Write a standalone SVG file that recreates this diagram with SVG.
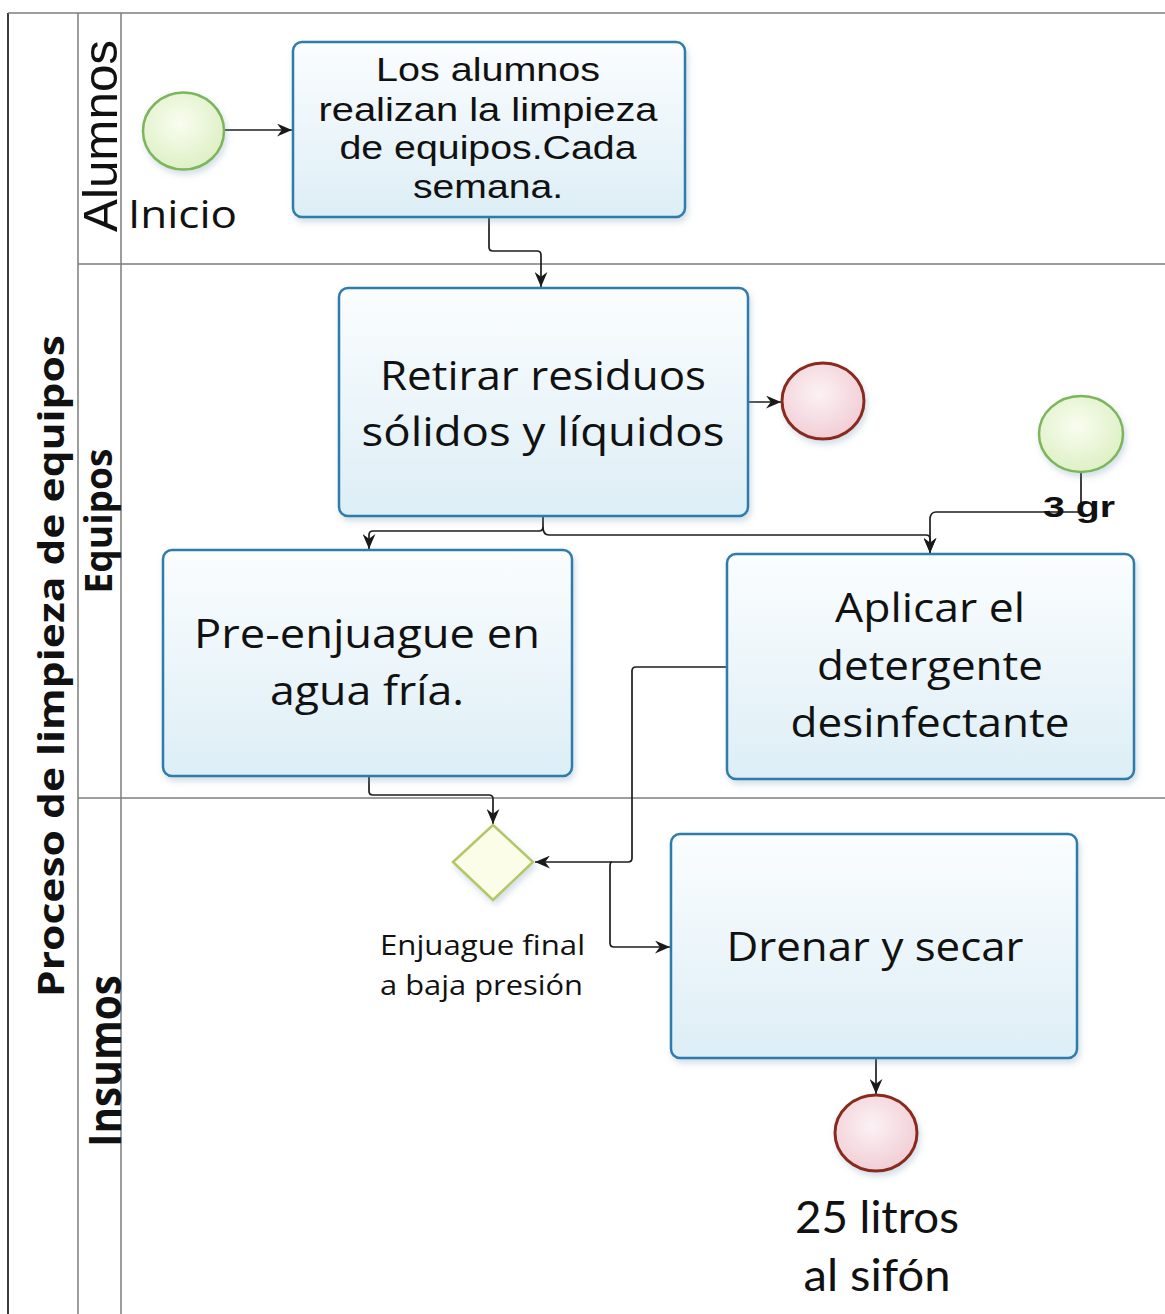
<svg xmlns="http://www.w3.org/2000/svg" width="1165" height="1314" viewBox="0 0 1165 1314">
<defs>
  <linearGradient id="taskFill" x1="0" y1="0" x2="0" y2="1">
    <stop offset="0" stop-color="#fbfdfe"/>
    <stop offset="1" stop-color="#ddeef6"/>
  </linearGradient>
  <radialGradient id="startFill" cx="0.45" cy="0.4" r="0.65">
    <stop offset="0" stop-color="#f9fdf0"/>
    <stop offset="1" stop-color="#dcefc2"/>
  </radialGradient>
  <radialGradient id="endFill" cx="0.45" cy="0.4" r="0.65">
    <stop offset="0" stop-color="#fbf2f5"/>
    <stop offset="1" stop-color="#f1cbd3"/>
  </radialGradient>
  <filter id="shadow" x="-10%" y="-10%" width="130%" height="140%">
    <feDropShadow dx="2" dy="4" stdDeviation="3" flood-color="#6d93ad" flood-opacity="0.3"/>
  </filter>
  <marker id="arrow" viewBox="0 0 14 12" refX="14" refY="6" markerWidth="15" markerHeight="13" markerUnits="userSpaceOnUse" orient="auto">
    <path d="M0,0 L14,6 L0,12 L4.5,6 Z" fill="#1a1a1a"/>
  </marker>
  <style>
    .frame { stroke:#3a3a3a; stroke-width:2; fill:none; }
    .lane { stroke:#7c7c7c; stroke-width:1.5; fill:none; }
    .task { fill:url(#taskFill); stroke:#2f7caa; stroke-width:2.5; filter:url(#shadow); }
    .start { fill:url(#startFill); stroke:#7cb65a; stroke-width:2.5; filter:url(#shadow); }
    .end { fill:url(#endFill); stroke:#8a2b1c; stroke-width:3; filter:url(#shadow); }
    .gw { fill:#fcfde9; stroke:#b3c865; stroke-width:2.5; filter:url(#shadow); }
    .conn { fill:none; stroke:#1e1e1e; stroke-width:1.7; }
    .arr { marker-end:url(#arrow); }
    .arial { font-family:"Liberation Sans", Arial, sans-serif; fill:#111; }
    .segoe { font-family:"Open Sans", "Noto Sans", sans-serif; fill:#111; }
    .calibri { font-family:Lato, "Open Sans", sans-serif; fill:#111; }
    .mid { text-anchor:middle; }
  </style>
</defs>

<g id="pool">
  <line class="frame" x1="8" y1="13" x2="8" y2="1314"/>
  <line class="lane" x1="8" y1="13" x2="1165" y2="13"/>
  <line class="lane" x1="78" y1="13" x2="78" y2="1314"/>
  <line class="lane" x1="121" y1="13" x2="121" y2="1314"/>
  <line class="lane" x1="78" y1="264" x2="1165" y2="264"/>
  <line class="lane" x1="78" y1="798" x2="1165" y2="798"/>
  <text class="segoe mid" font-size="36" font-weight="bold" transform="translate(64,666) rotate(-90)" textLength="662" lengthAdjust="spacingAndGlyphs">Proceso  de limpieza de equipos</text>
</g>

<g id="lane-alumnos">
  <text class="arial mid" font-size="48" transform="translate(117,136) rotate(-90)" textLength="192" lengthAdjust="spacingAndGlyphs">Alumnos</text>
</g>
<g id="lane-equipos">
  <text class="segoe mid" font-size="38" font-weight="bold" transform="translate(112,521) rotate(-90)" textLength="145" lengthAdjust="spacingAndGlyphs">Equipos</text>
</g>
<g id="lane-insumos">
  <text class="segoe mid" font-size="44" font-weight="bold" transform="translate(121,1061) rotate(-90)" textLength="172" lengthAdjust="spacingAndGlyphs">Insumos</text>
</g>

<g id="connectors">
  <path class="conn arr" d="M224,130 H292"/>
  <path class="conn arr" d="M489,217 V247 Q489,251 493,251 H537 Q541,251 541,255 V287"/>
  <path class="conn arr" d="M748,402 H781"/>
  <path class="conn arr" d="M543,517 V527 Q543,531 539,531 H373 Q369,531 369,535 V549"/>
  <path class="conn arr" d="M543,527 Q543,535 549,535 H926 Q930,535 930,539 V553"/>
  <path class="conn arr" d="M1081,472 V512 H936 Q931,512 930,518 V553"/>
  <path class="conn arr" d="M369,777 V791 Q369,795 373,795 H489 Q493,795 493,799 V824"/>
  <path class="conn arr" d="M727,667 H636 Q632,667 632,671 V858 Q632,862 628,862 H535"/>
  <path class="conn arr" d="M612,862 Q610,862 610,866 V943 Q610,947 614,947 H670"/>
  <path class="conn arr" d="M876,1058 V1094"/>
</g>

<g id="start-inicio">
  <ellipse class="start" cx="183.5" cy="131" rx="40.5" ry="38.5"/>
  <text class="segoe" x="128" y="228" font-size="38" textLength="109" lengthAdjust="spacingAndGlyphs">Inicio</text>
</g>

<g id="task-alumnos">
  <rect class="task" x="293" y="42" width="392" height="175" rx="9"/>
  <text class="arial mid" x="488" y="81" font-size="33" textLength="224" lengthAdjust="spacingAndGlyphs">Los alumnos</text>
  <text class="arial mid" x="488" y="121" font-size="33" textLength="339" lengthAdjust="spacingAndGlyphs">realizan la limpieza</text>
  <text class="arial mid" x="488" y="159" font-size="33" textLength="297" lengthAdjust="spacingAndGlyphs">de equipos.Cada</text>
  <text class="arial mid" x="488" y="198" font-size="33" textLength="150" lengthAdjust="spacingAndGlyphs">semana.</text>
</g>

<g id="task-retirar">
  <rect class="task" x="339" y="288" width="409" height="228" rx="9"/>
  <text class="segoe mid" x="543" y="390" font-size="40" textLength="326" lengthAdjust="spacingAndGlyphs">Retirar residuos</text>
  <text class="segoe mid" x="543" y="446" font-size="40" textLength="363" lengthAdjust="spacingAndGlyphs">sólidos y líquidos</text>
</g>

<g id="end-residuos">
  <ellipse class="end" cx="823" cy="401" rx="41" ry="38"/>
</g>

<g id="start-detergente">
  <ellipse class="start" cx="1081" cy="434" rx="42" ry="38"/>
  <text class="arial" x="1043" y="517" font-size="30" font-weight="bold" textLength="72" lengthAdjust="spacingAndGlyphs">3 gr</text>
</g>

<g id="task-preenjuague">
  <rect class="task" x="163" y="550" width="409" height="226" rx="9"/>
  <text class="segoe mid" x="367" y="648" font-size="40" textLength="346" lengthAdjust="spacingAndGlyphs">Pre-enjuague en</text>
  <text class="segoe mid" x="367" y="705" font-size="40" textLength="194" lengthAdjust="spacingAndGlyphs">agua fría.</text>
</g>

<g id="task-aplicar">
  <rect class="task" x="727" y="554" width="407" height="225" rx="9"/>
  <text class="segoe mid" x="930" y="622" font-size="40" textLength="190" lengthAdjust="spacingAndGlyphs">Aplicar el</text>
  <text class="segoe mid" x="930" y="680" font-size="40" textLength="226" lengthAdjust="spacingAndGlyphs">detergente</text>
  <text class="segoe mid" x="930" y="737" font-size="40" textLength="279" lengthAdjust="spacingAndGlyphs">desinfectante</text>
</g>

<g id="gateway-enjuague">
  <polygon class="gw" points="493,825 533,862 493,900 453,862"/>
  <text class="segoe" x="380" y="955" font-size="27" textLength="205" lengthAdjust="spacingAndGlyphs">Enjuague final</text>
  <text class="segoe" x="380" y="995" font-size="27" textLength="203" lengthAdjust="spacingAndGlyphs">a baja presión</text>
</g>

<g id="task-drenar">
  <rect class="task" x="671" y="834" width="406" height="224" rx="9"/>
  <text class="segoe mid" x="875" y="961" font-size="40" textLength="297" lengthAdjust="spacingAndGlyphs">Drenar y secar</text>
</g>

<g id="end-sifon">
  <ellipse class="end" cx="876" cy="1133" rx="41" ry="38"/>
  <text class="calibri mid" x="877" y="1233" font-size="45" textLength="164" lengthAdjust="spacingAndGlyphs">25 litros</text>
  <text class="calibri mid" x="877" y="1291" font-size="45" textLength="147" lengthAdjust="spacingAndGlyphs">al sifón</text>
</g>
</svg>
